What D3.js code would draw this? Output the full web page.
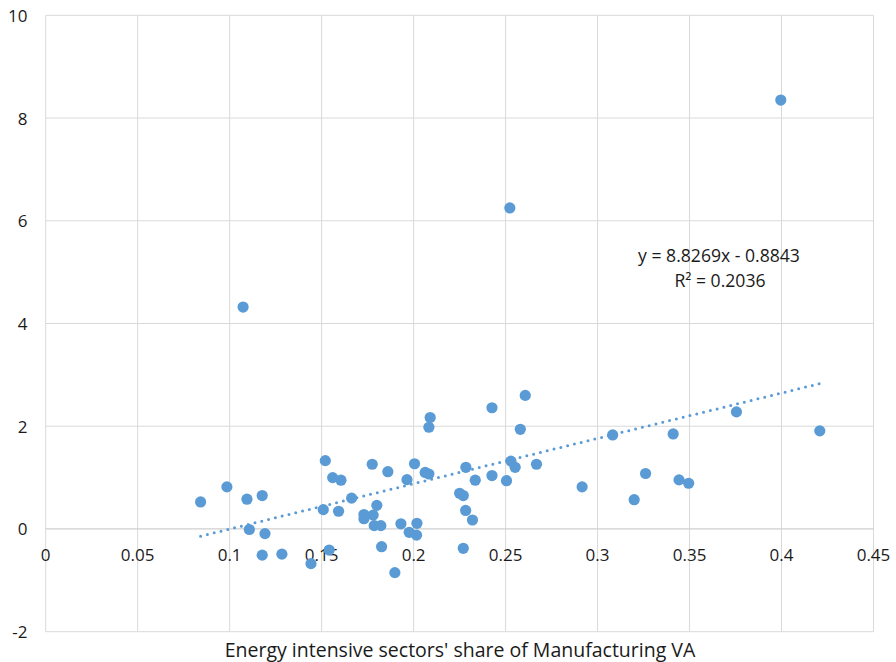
<!DOCTYPE html>
<html>
<head>
<meta charset="utf-8">
<script src="https://cdn.jsdelivr.net/npm/d3@7"></script>
<style>
  html, body { margin: 0; padding: 0; background: #ffffff; }
  svg { display: block; font-family: "Open Sans", Lato, sans-serif; }
</style>
</head>
<body>
<svg id="chart" width="896" height="662"></svg>
<script>
// ---- data ----
const xValues = [0.0842, 0.0985, 0.1094, 0.1177, 0.1107, 0.1192, 0.1177, 0.1284, 0.1442, 0.1541,
  0.152, 0.156, 0.1605, 0.1509, 0.1592, 0.1663, 0.1775, 0.186, 0.1964, 0.2005,
  0.2063, 0.2083, 0.209, 0.2083, 0.18, 0.173, 0.173, 0.178, 0.1786, 0.1822,
  0.1826, 0.1898, 0.1931, 0.2018, 0.1976, 0.2016, 0.225, 0.227, 0.2284, 0.2335,
  0.2283, 0.232, 0.227, 0.2426, 0.2426, 0.2505, 0.2529, 0.2552, 0.258, 0.2607,
  0.2668, 0.2916, 0.3082, 0.3199, 0.3261, 0.3411, 0.3443, 0.3495, 0.3755, 0.4208,
  0.3996, 0.2523, 0.1073];
const yValues = [0.526, 0.82, 0.58, 0.65, -0.01, -0.09, -0.51, -0.49, -0.675, -0.41,
  1.33, 1.0, 0.95, 0.376, 0.345, 0.6, 1.26, 1.115, 0.96, 1.27,
  1.10, 1.07, 2.17, 1.98, 0.46, 0.28, 0.2, 0.27, 0.065, 0.065,
  -0.345, -0.85, 0.1, 0.11, -0.065, -0.12, 0.695, 0.65, 1.2, 0.95,
  0.36, 0.175, -0.376, 2.36, 1.04, 0.94, 1.32, 1.2, 1.94, 2.6,
  1.26, 0.82, 1.83, 0.57, 1.08, 1.85, 0.955, 0.89, 2.28, 1.91,
  8.35, 6.25, 4.32];
const xTicks = [0, 0.05, 0.1, 0.15, 0.2, 0.25, 0.3, 0.35, 0.4, 0.45];
const xTickLabels = ["0", "0.05", "0.1", "0.15", "0.2", "0.25", "0.3", "0.35", "0.4", "0.45"];
const yTicks = [-2, 0, 2, 4, 6, 8, 10];
const yTickLabels = ["-2", "0", "2", "4", "6", "8", "10"];
const trendSlope = 8.8269;
const trendIntercept = -0.8843;
const equationText = "y = 8.8269x - 0.8843";
const r2Text = "R² = 0.2036";
const xTitle = "Energy intensive sectors' share of Manufacturing VA";

// ---- layout ----
const svg = d3.select("#chart");
const plotLeft = 45.7, plotRight = 873.5, plotTop = 15.3, plotBottom = 631.7;
const x = d3.scaleLinear().domain([0, 0.45]).range([plotLeft, plotRight]);
const y = d3.scaleLinear().domain([-2, 10]).range([plotBottom, plotTop]);
const blue = "#5b9bd5";
const grid = "#d9d9d9";
const fs = 17;

// gridlines
svg.append("g").selectAll("line").data(xTicks).join("line")
  .attr("x1", d => x(d)).attr("x2", d => x(d))
  .attr("y1", y(10)).attr("y2", y(-2))
  .attr("stroke", grid).attr("stroke-width", 1);
svg.append("g").selectAll("line").data(yTicks).join("line")
  .attr("x1", x(0)).attr("x2", x(0.45))
  .attr("y1", d => y(d)).attr("y2", d => y(d))
  .attr("stroke", d => d === 0 ? "#cfcfcf" : grid).attr("stroke-width", d => d === 0 ? 1.3 : 1);

// y tick labels
svg.append("g").selectAll("text").data(yTicks).join("text")
  .attr("x", 27.5).attr("y", d => y(d))
  .attr("text-anchor", "end").attr("dominant-baseline", "central")
  .attr("font-size", fs).attr("fill", "#1a1a1a")
  .text((d, i) => yTickLabels[i]);

// x tick labels (placed below the zero line)
svg.append("g").selectAll("text").data(xTicks).join("text")
  .attr("x", d => x(d)).attr("y", y(0) + 32)
  .attr("text-anchor", "middle")
  .attr("font-size", fs).attr("fill", "#1a1a1a")
  .text((d, i) => xTickLabels[i]);

// trendline
const xMin = d3.min(xValues), xMax = d3.max(xValues);
svg.append("line")
  .attr("x1", x(xMin)).attr("y1", y(trendSlope * xMin + trendIntercept))
  .attr("x2", x(xMax)).attr("y2", y(trendSlope * xMax + trendIntercept))
  .attr("stroke", blue).attr("stroke-width", 3)
  .attr("stroke-linecap", "round").attr("stroke-dasharray", "0 7");

// points
svg.append("g").selectAll("circle").data(xValues.map((v, i) => [v, yValues[i]])).join("circle")
  .attr("cx", d => x(d[0])).attr("cy", d => y(d[1]))
  .attr("r", 5.6).attr("fill", blue);

// equation
svg.append("text").attr("x", 719).attr("y", 262).attr("text-anchor", "middle")
  .attr("font-size", 17.6).attr("fill", "#1a1a1a").text(equationText);
svg.append("text").attr("x", 720).attr("y", 287).attr("text-anchor", "middle")
  .attr("font-size", 17.6).attr("fill", "#1a1a1a").text(r2Text);

// axis title
svg.append("text").attr("x", 460).attr("y", 657).attr("text-anchor", "middle")
  .attr("font-size", 19.5).attr("fill", "#1a1a1a").text(xTitle);
</script>
</body>
</html>
